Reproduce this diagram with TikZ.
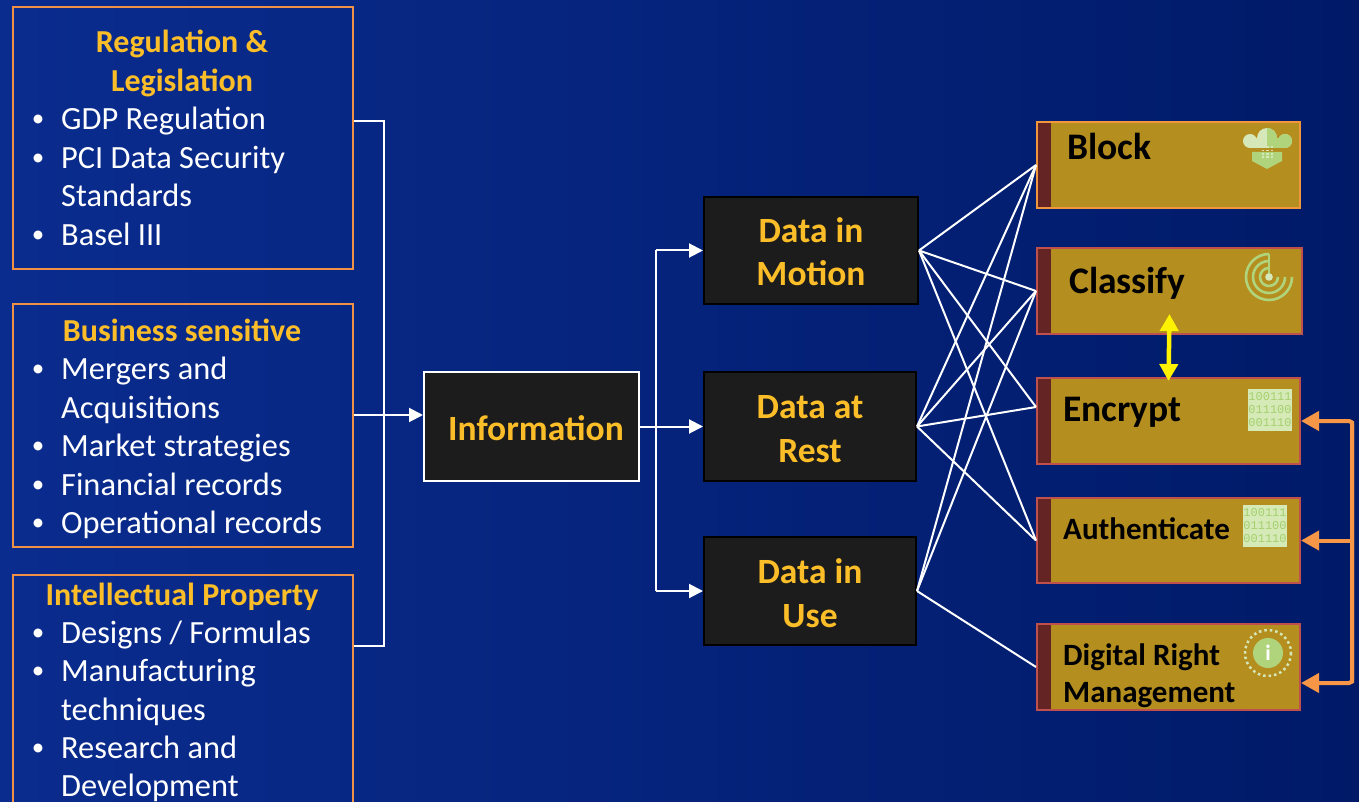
\documentclass[tikz,border=0pt]{standalone}
\usepackage{fontspec}
\setmainfont{Carlito}
\newfontfamily\binfont{Liberation Mono}
\usetikzlibrary{arrows.meta,calc}
\definecolor{bgl}{RGB}{10,44,142}
\definecolor{bgr}{RGB}{0,26,104}
\definecolor{lborder}{RGB}{240,145,70}
\definecolor{hdrgold}{RGB}{252,190,40}
\definecolor{darkfill}{RGB}{28,28,28}
\definecolor{goldfill}{RGB}{180,142,30}
\definecolor{stripec}{RGB}{100,36,36}
\definecolor{redline}{RGB}{192,80,77}
\definecolor{orangeline}{RGB}{240,150,60}
\definecolor{oarrowc}{RGB}{247,150,70}
\definecolor{icongreen}{RGB}{176,212,124}
\definecolor{iconpale}{RGB}{214,232,186}
\definecolor{binbg}{RGB}{214,234,184}
\definecolor{bintext}{RGB}{165,208,110}
\newcommand{\myitem}[3]{\node[bulst] (#1b) at (38,#2-3) {\textbullet}; \node[itemst] (#1) at (61,#2) {#3};}
\newcommand{\mycont}[3]{\node[itemst] (#1) at (61,#2) {#3};}
\begin{document}
\begin{tikzpicture}[x=1pt,y=-1pt,
  lbox/.style={draw=lborder, line width=2pt, inner sep=0pt},
  dbox/.style={fill=darkfill, draw=black, line width=2pt, inner sep=0pt},
  ibox/.style={fill=darkfill, draw=white, line width=2pt, inner sep=0pt},
  rbox/.style={fill=goldfill, draw=redline, line width=2pt, inner sep=0pt,
    path picture={\fill[stripec] (path picture bounding box.north west) rectangle ([xshift=14pt]path picture bounding box.south west);}},
  itemst/.style={anchor=base west, inner sep=0pt, text=white, font=\fontsize{32.4}{38}\selectfont},
  bulst/.style={anchor=base, inner sep=0pt, text=white, font=\fontsize{25}{30}\selectfont},
  headst/.style={anchor=base, inner sep=0pt, text=hdrgold, font=\fontsize{32}{38}\selectfont\bfseries},
  datast/.style={anchor=base, inner sep=0pt, text=hdrgold, font=\fontsize{35.5}{42}\selectfont\bfseries},
  rtext/.style={anchor=base west, inner sep=0pt, text=black, font=\fontsize{37.5}{44}\selectfont\bfseries},
  rtexts/.style={anchor=base west, inner sep=0pt, text=black, font=\fontsize{31}{36}\selectfont\bfseries},
  wline/.style={draw=white, line width=2pt},
  warrow/.style={draw=white, line width=2pt, -{Triangle[length=14pt,width=14pt]}},
  oarr/.style={draw=oarrowc, line width=4pt, -{Triangle[length=18pt,width=19pt]}},
  yarr/.style={draw=yellow, line width=4.5pt, {Triangle[length=17pt,width=18pt]}-{Triangle[length=17pt,width=18pt]}},
  binbox/.style={fill=binbg, text=bintext, font=\binfont\fontsize{12}{13}\selectfont, align=center, minimum width=44pt, minimum height=42pt, inner sep=0.5pt},
  iconarc/.style={draw=icongreen, line width=2.6pt}
]
\clip (0,0) rectangle (1359,802);
\useasboundingbox (0,0) rectangle (1359,802);
\shade[left color=bgl, right color=bgr] (0,0) rectangle (1359,802);

% left boxes
\node[lbox, minimum width=340pt, minimum height=262pt] (reg) at (183,138) {};
\node[lbox, minimum width=340pt, minimum height=243pt] (bus) at (183,425.5) {};
\node[lbox, minimum width=340pt, minimum height=260pt] (ip) at (183,705) {};

\node[headst] (regh1) at (182,53) {Regulation \&};
\node[headst] (regh2) at (182,91.5) {Legislation};
\myitem{r1}{130}{GDP Regulation}
\myitem{r2}{168.5}{PCI Data Security}
\mycont{r3}{207}{Standards}
\myitem{r4}{245.5}{Basel III}

\node[headst] (bush) at (182,341) {Business sensitive};
\myitem{b1}{379.5}{Mergers and}
\mycont{b2}{418}{Acquisitions}
\myitem{b3}{456.5}{Market strategies}
\myitem{b4}{495}{Financial records}
\myitem{b5}{533.5}{Operational records}

\node[headst] (iph) at (182,605) {Intellectual Property};
\myitem{i1}{643}{Designs / Formulas}
\myitem{i2}{681.5}{Manufacturing}
\mycont{i3}{720}{techniques}
\myitem{i4}{758}{Research and}
\mycont{i5}{796.5}{Development}

% middle boxes
\node[ibox, minimum width=215pt, minimum height=109pt] (info) at (531.5,426.5) {};
\node[datast] (infot) at (536,440) {Information};
\node[dbox, minimum width=214pt, minimum height=107pt] (dim) at (811,250.5) {};
\node[dbox, minimum width=212pt, minimum height=109pt] (dar) at (810,426.5) {};
\node[dbox, minimum width=212pt, minimum height=108pt] (diu) at (810,591) {};
\node[datast] (dimt1) at (811,243) {Data in};
\node[datast] (dimt2) at (811,285) {Motion};
\node[datast] (dart1) at (810,418) {Data at};
\node[datast] (dart2) at (810,462) {Rest};
\node[datast] (diut1) at (810,583) {Data in};
\node[datast] (diut2) at (810,627) {Use};

% right boxes
\node[rbox, draw=orangeline, minimum width=263pt, minimum height=86pt] (blk) at (1168.5,165) {};
\node[rbox, minimum width=265pt, minimum height=86pt] (cls) at (1169.5,291) {};
\node[rbox, minimum width=263pt, minimum height=86pt] (enc) at (1168.5,421) {};
\node[rbox, minimum width=263pt, minimum height=85pt] (aut) at (1168.5,540.5) {};
\node[rbox, minimum width=263pt, minimum height=86pt] (drm) at (1168.5,667) {};
\node[rtext] (blkt) at (1067,160) {Block};
\node[rtext] (clst) at (1069,293) {Classify};
\node[rtext] (enct) at (1063,421) {Encrypt};
\node[rtexts] (autt) at (1063,539) {Authenticate};
\node[rtexts] (drmt1) at (1063,665) {Digital Right};
\node[rtexts] (drmt2) at (1063,702) {Management};

% left connectors
\coordinate (lb1) at (384,121);
\coordinate (lb3) at (384,646);
\coordinate (lmid) at (384,415);
\draw[wline] (reg.east |- lb1) -- (lb1) -- (lb3) -- (ip.east |- lb3);
\draw[warrow] (bus.east |- lmid) -- (info.west |- lmid);

% information to data boxes
\coordinate (split) at (656,426.5);
\draw[wline] (info.east) -- (split);
\draw[warrow] (split) -- (dar.west);
\draw[wline] (split |- dim.west) -- (split |- diu.west);
\draw[warrow] (split |- dim.west) -- (dim.west);
\draw[warrow] (split |- diu.west) -- (diu.west);

% fan of lines
\coordinate (encin) at ([yshift=14pt]enc.west);
\foreach \s/\t in {dim.east/blk.west, dim.east/cls.west, dim.east/encin, dim.east/aut.west,
                   dar.east/blk.west, dar.east/cls.west, dar.east/encin, dar.east/aut.west,
                   diu.east/blk.west, diu.east/cls.west, diu.east/drm.west}
  \draw[wline] (\s) -- (\t);

% yellow double arrow
\draw[yarr] ([yshift=21pt]cls.south) -- ([yshift=-4pt]enc.north);

% orange arrows
\coordinate (obus) at (1352,0);
\coordinate (drmin) at ([yshift=-16pt]drm.east);
\draw[oarr, rounded corners=3pt] (obus |- drmin) -- (obus |- enc.east) -- (enc.east);
\draw[oarr, rounded corners=3pt] (obus |- enc.east) -- (obus |- drmin) -- (drmin);
\draw[oarr] (obus |- aut.east) -- (aut.east);

% icons: block
\fill[iconpale] (1267,138) circle (10);
\fill[iconpale] (1250,141) circle (7);
\fill[iconpale] (1285,141) circle (7);
\fill[iconpale] (1250,138) rectangle (1285,148);
\begin{scope}
  \clip (1267,120) rectangle (1300,160);
  \fill[icongreen] (1267,138) circle (10);
  \fill[icongreen] (1285,141) circle (7);
  \fill[icongreen] (1250,138) rectangle (1285,148);
\end{scope}
\fill[icongreen] (1252,152) -- (1282,152) -- (1282,161) -- (1267,169) -- (1252,161) -- cycle;
\foreach \i in {0,1,2} \foreach \j in {0,1,2,3}
  \fill[iconpale] (1261.5+\i*4.5,146.5+\j*3.1) rectangle ++(2.6,1.9);

% icons: classify
\begin{scope}[shift={(1269,277)}, yscale=-1]
  \draw[iconarc] (0,23) arc[start angle=90, end angle=360, radius=23];
  \draw[iconarc] (0,16) arc[start angle=90, end angle=360, radius=16];
  \draw[iconarc] (0,9) arc[start angle=90, end angle=360, radius=9];
  \draw[iconarc] (0,0) -- (0,23);
  \fill[iconpale] (0,0) circle (3.8);
\end{scope}

% icons: binary
\node[binbox] (encbin) at (1270,410) {100111\\011100\\001110};
\node[binbox] (autbin) at (1265,526) {100111\\011100\\001110};

% icons: drm
\draw[iconpale, line width=2.5pt, dash pattern=on 2.5pt off 3pt] (1268,653) circle (23);
\fill[icongreen] (1268,653) circle (15);
\node[text=white, font=\fontsize{22}{22}\selectfont\bfseries, inner sep=0pt] (drmi) at (1268,653) {i};
\end{tikzpicture}
\end{document}
